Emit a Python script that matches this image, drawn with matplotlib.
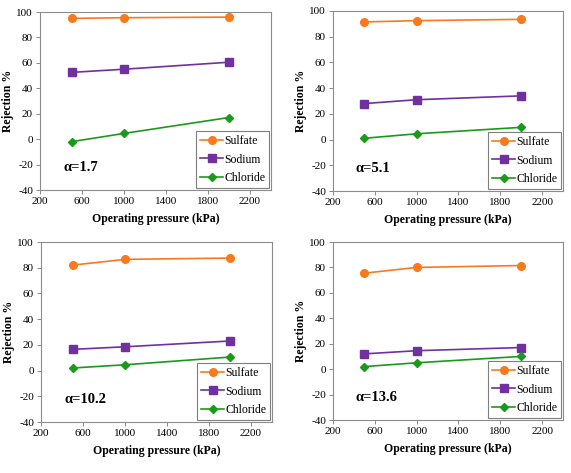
import matplotlib

matplotlib.use("Agg")

import matplotlib.pyplot as plt

pressure = [500, 1000, 2000]
alphas = ["1.7", "5.1", "10.2", "13.6"]

sulfate = [
    [95.0, 95.5, 96.0],
    [91.5, 92.5, 93.5],
    [82.0, 86.5, 87.5],
    [75.5, 80.0, 81.5],
]
sodium = [
    [52.5, 55.0, 60.5],
    [28.0, 31.0, 34.0],
    [16.5, 18.5, 23.0],
    [12.0, 14.5, 17.0],
]
chloride = [
    [-2.0, 4.5, 17.0],
    [1.0, 4.5, 9.5],
    [2.0, 4.5, 10.5],
    [2.0, 5.0, 10.0],
]

x_ticks = [200, 600, 1000, 1400, 1800, 2200]
y_ticks = [-40, -20, 0, 20, 40, 60, 80, 100]

plt.rcParams["font.family"] = ["Liberation Serif", "DejaVu Serif"]
plt.rcParams["axes.unicode_minus"] = False

W, H = 571, 473
fig = plt.figure(figsize=(W / 100, H / 100), dpi=100)

# axes boxes in pixels: left, top, right, bottom
boxes = [
    (40, 12, 271, 190),
    (333, 11, 563, 191),
    (41, 242, 272, 422),
    (333, 242, 563, 420),
]

for i, (l, t, r, b) in enumerate(boxes):
    ax = fig.add_axes([l / W, 1 - b / H, (r - l) / W, (b - t) / H])
    ax.plot(pressure, sulfate[i], color="#F87A1E", marker="o", ms=5.5, lw=1.2, label="Sulfate")
    ax.plot(pressure, sodium[i], color="#7030A0", marker="s", ms=5.5, lw=1.2, label="Sodium")
    ax.plot(pressure, chloride[i], color="#1A9A1A", marker="D", ms=3.8, lw=1.2, label="Chloride")
    ax.set_xlim(200, 2400)
    ax.set_ylim(-40, 100)
    ax.set_xticks(x_ticks)
    ax.set_yticks(y_ticks)
    ax.tick_params(labelsize=8, length=3, width=0.7, color="#888888", pad=2)
    for s in ax.spines.values():
        s.set_color("#8c8c8c")
        s.set_linewidth(0.8)
    ax.set_xlabel("Operating pressure (kPa)", fontsize=8.5, fontweight="bold", labelpad=5)
    ax.set_ylabel("Rejection %", fontsize=8.5, fontweight="bold", labelpad=2)
    ax.text(0.1, 0.125, "\u03b1=" + alphas[i], transform=ax.transAxes,
            fontsize=10.5, fontweight="bold", ha="left", va="center")
    leg = ax.legend(loc="lower right", fontsize=8.5, frameon=True, fancybox=False,
                    borderaxespad=0.15, handlelength=1.9, labelspacing=0.55,
                    borderpad=0.35, handletextpad=0.1, framealpha=1)
    leg.get_frame().set_edgecolor("#7f7f7f")
    leg.get_frame().set_linewidth(0.8)

fig.savefig("out.png", dpi=100)
